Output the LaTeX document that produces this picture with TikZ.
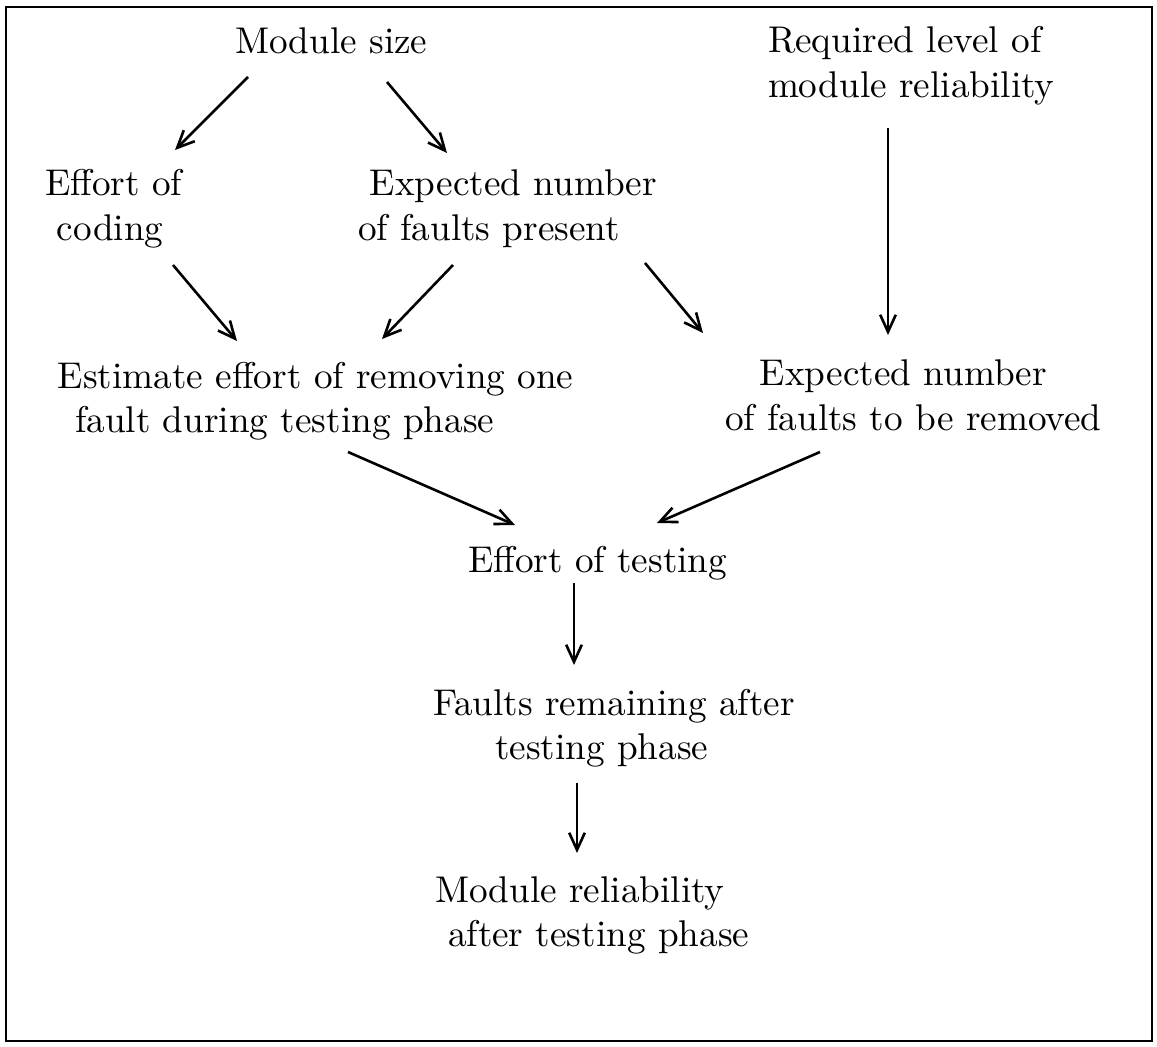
\documentclass[tikz,border=0pt]{standalone}
\usetikzlibrary{arrows.meta,calc}
\tikzset{
  lbl/.style={anchor=base west, inner sep=0pt, outer sep=0pt, font=\fontsize{10}{12}\selectfont},
  arr/.style={line width=0.7pt, -{Straight Barb[length=4.6pt,width=4.2pt]}},
  frame/.style={line width=0.75pt}
}
\newcommand{\twoline}[2]{\begin{tabular}[t]{@{}l@{}}#1\\#2\end{tabular}}
\begin{document}
\begin{tikzpicture}[x=0.2688pt, y=-0.2688pt]
  \useasboundingbox (0,0) rectangle (1157,1047);
  \draw[frame] (6,7) rectangle (1152,1041);

  % labels, placed by the left end of their first baseline
  \node[lbl] (ms)  at (235,54)  {Module size};
  \node[lbl] (eoc) at (45,196)  {\twoline{Effort of}{\hspace*{3.2pt}coding}};
  \node[lbl] (enf) at (358,196) {\twoline{\hspace*{3.2pt}Expected number}{of faults present}};
  \node[lbl] (rl)  at (768,53)  {\twoline{Required level of}{module reliability}};
  \node[lbl] (est) at (58,388)  {\twoline{Estimate effort of removing one}{\hspace*{4.6pt}fault during testing phase}};
  \node[lbl] (enr) at (725,386) {\twoline{\hspace*{9.4pt}Expected number}{of faults to be removed}};
  \node[lbl] (eot) at (468,573) {Effort of testing};
  \node[lbl] (frt) at (433,715) {\twoline{Faults remaining after}{\hspace*{16.7pt}testing phase}};
  \node[lbl] (mr)  at (435,902) {\twoline{Module reliability}{\hspace*{3.5pt}after testing phase}};

  % influences
  \draw[arr] ($(ms.base west)+(13,23)$)   -- ($(eoc.base west)+(130,-46)$);
  \draw[arr] ($(ms.base west)+(152,28)$)  -- ($(enf.base west)+(89,-43)$);
  \draw[arr] ($(eoc.base west)+(128,69)$) -- ($(est.base west)+(179,-47)$);
  \draw[arr] ($(enf.base west)+(95,69)$)  -- ($(est.base west)+(324,-49)$);
  \draw[arr] ($(enf.base west)+(287,67)$) -- ($(enr.base west)+(-22,-53)$);
  \draw[arr] ($(rl.base west)+(120,75)$)  -- ($(enr.base west)+(163,-51)$);
  \draw[arr] ($(est.base west)+(290,64)$) -- ($(eot.base west)+(47,-48)$);
  \draw[arr] ($(enr.base west)+(95,66)$)  -- ($(eot.base west)+(189,-50)$);
  \draw[arr] ($(eot.base west)+(106,10)$) -- ($(frt.base west)+(141,-50)$);
  \draw[arr] ($(frt.base west)+(144,68)$) -- ($(mr.base west)+(142,-49)$);
\end{tikzpicture}
\end{document}
